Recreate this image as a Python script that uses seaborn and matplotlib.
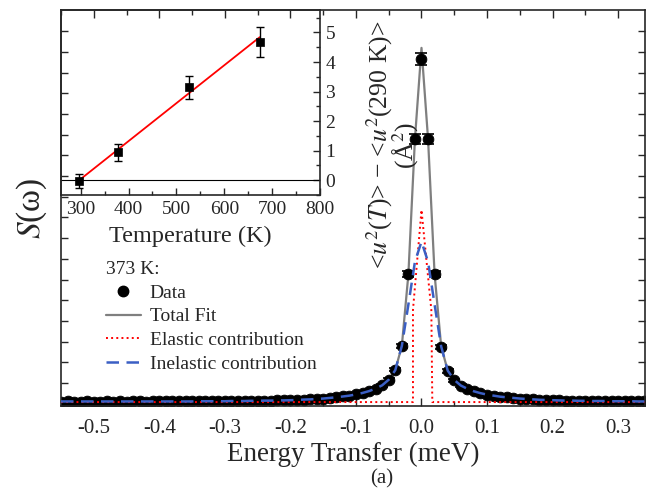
import numpy as np
import matplotlib
matplotlib.use('Agg')
import matplotlib.pyplot as plt
import seaborn as sns
from matplotlib.lines import Line2D
from matplotlib.ticker import MultipleLocator, NullFormatter

# ---- main panel: S(w) at 373 K ----
energy = [-0.55, -0.54, -0.53, -0.52, -0.51, -0.50, -0.49, -0.48, -0.47, -0.46,
          -0.45, -0.44, -0.43, -0.42, -0.41, -0.40, -0.39, -0.38, -0.37, -0.36,
          -0.35, -0.34, -0.33, -0.32, -0.31, -0.30, -0.29, -0.28, -0.27, -0.26,
          -0.25, -0.24, -0.23, -0.22, -0.21, -0.20, -0.19, -0.18, -0.17, -0.16,
          -0.15, -0.14, -0.13, -0.12, -0.11, -0.10, -0.09, -0.08, -0.07, -0.06,
          -0.05, -0.04, -0.03, -0.02, -0.01, 0.00, 0.01, 0.02, 0.03, 0.04,
          0.05, 0.06, 0.07, 0.08, 0.09, 0.10, 0.11, 0.12, 0.13, 0.14,
          0.15, 0.16, 0.17, 0.18, 0.19, 0.20, 0.21, 0.22, 0.23, 0.24,
          0.25, 0.26, 0.27, 0.28, 0.29, 0.30, 0.31, 0.32, 0.33, 0.34]

s_data = [0.21, 0.22, 0.21, 0.21, 0.22, 0.21, 0.21, 0.22, 0.21, 0.22,
          0.21, 0.22, 0.22, 0.21, 0.22, 0.22, 0.22, 0.23, 0.22, 0.22,
          0.23, 0.22, 0.23, 0.23, 0.23, 0.23, 0.24, 0.24, 0.24, 0.25,
          0.25, 0.26, 0.26, 0.27, 0.27, 0.28, 0.29, 0.31, 0.32, 0.34,
          0.36, 0.39, 0.42, 0.46, 0.50, 0.56, 0.63, 0.72, 0.84, 1.00,
          1.28, 1.75, 2.90, 6.36, 12.90, 16.76, 12.90, 6.36, 2.86, 1.69,
          1.25, 0.99, 0.83, 0.71, 0.62, 0.55, 0.50, 0.45, 0.42, 0.39,
          0.36, 0.34, 0.32, 0.30, 0.29, 0.28, 0.27, 0.26, 0.26, 0.25,
          0.25, 0.24, 0.24, 0.24, 0.23, 0.23, 0.23, 0.22, 0.23, 0.22]

s_err = [0.06, 0.06, 0.06, 0.06, 0.06, 0.06, 0.06, 0.06, 0.06, 0.06,
         0.06, 0.06, 0.06, 0.06, 0.06, 0.06, 0.06, 0.06, 0.06, 0.06,
         0.06, 0.06, 0.06, 0.06, 0.06, 0.06, 0.06, 0.06, 0.06, 0.06,
         0.06, 0.06, 0.06, 0.06, 0.06, 0.06, 0.06, 0.06, 0.06, 0.06,
         0.06, 0.06, 0.06, 0.06, 0.06, 0.06, 0.06, 0.06, 0.07, 0.07,
         0.07, 0.08, 0.10, 0.15, 0.23, 0.31, 0.23, 0.15, 0.10, 0.08,
         0.07, 0.07, 0.07, 0.06, 0.06, 0.06, 0.06, 0.06, 0.06, 0.06,
         0.06, 0.06, 0.06, 0.06, 0.06, 0.06, 0.06, 0.06, 0.06, 0.06,
         0.06, 0.06, 0.06, 0.06, 0.06, 0.06, 0.06, 0.06, 0.06, 0.06]

s_total = [0.21, 0.21, 0.21, 0.21, 0.21, 0.21, 0.21, 0.21, 0.21, 0.21,
           0.21, 0.21, 0.22, 0.22, 0.22, 0.22, 0.22, 0.22, 0.22, 0.22,
           0.22, 0.23, 0.23, 0.23, 0.23, 0.23, 0.24, 0.24, 0.24, 0.25,
           0.25, 0.26, 0.26, 0.27, 0.27, 0.28, 0.29, 0.31, 0.32, 0.34,
           0.36, 0.39, 0.42, 0.46, 0.50, 0.56, 0.63, 0.72, 0.84, 1.00,
           1.27, 1.73, 2.90, 6.36, 12.90, 17.30, 12.90, 6.36, 2.88, 1.71,
           1.26, 0.99, 0.83, 0.71, 0.62, 0.55, 0.50, 0.45, 0.42, 0.39,
           0.36, 0.34, 0.32, 0.30, 0.29, 0.28, 0.27, 0.26, 0.26, 0.25,
           0.25, 0.24, 0.24, 0.24, 0.23, 0.23, 0.23, 0.23, 0.22, 0.22]

s_inel = [0.22, 0.22, 0.22, 0.22, 0.22, 0.22, 0.22, 0.22, 0.22, 0.22,
          0.22, 0.22, 0.22, 0.22, 0.22, 0.22, 0.22, 0.22, 0.22, 0.22,
          0.22, 0.23, 0.23, 0.23, 0.23, 0.23, 0.24, 0.24, 0.24, 0.25,
          0.25, 0.26, 0.26, 0.27, 0.27, 0.28, 0.29, 0.31, 0.32, 0.34,
          0.36, 0.39, 0.42, 0.46, 0.50, 0.56, 0.63, 0.72, 0.84, 1.00,
          1.27, 1.73, 2.90, 4.90, 6.97, 7.94, 6.97, 4.90, 2.88, 1.71,
          1.26, 0.99, 0.83, 0.71, 0.62, 0.55, 0.50, 0.45, 0.42, 0.39,
          0.36, 0.34, 0.32, 0.30, 0.29, 0.28, 0.27, 0.26, 0.26, 0.25,
          0.25, 0.24, 0.24, 0.24, 0.23, 0.23, 0.23, 0.23, 0.22, 0.22]

el_energy = [-0.55, -0.013, -0.013, 0.0, 0.015, 0.0165, 0.34]
s_el = [0.19, 0.19, 4.64, 9.47, 4.64, 0.19, 0.19]

# ---- inset: mean square displacement ----
temp = [297, 379, 527, 674]
du2 = [-0.03, 0.94, 3.14, 4.67]
du2_err = [0.23, 0.28, 0.38, 0.50]
fit_temp = [297, 674]
fit_du2 = [0.0, 4.84]

sns.set_theme(style='ticks')
plt.rcParams['font.family'] = ['Liberation Serif', 'DejaVu Serif']
plt.rcParams['mathtext.fontset'] = 'stix'
plt.rcParams['axes.unicode_minus'] = False

W, H = 648, 498
fig = plt.figure(figsize=(W / 100, H / 100), dpi=100)
ax = fig.add_axes([61 / W, 1 - 406 / H, (645 - 61) / W, 396 / H])
ins = fig.add_axes([61 / W, 1 - 195 / H, (320 - 61) / W, 185 / H])

blue = '#3b5fc4'

sns.lineplot(x=energy, y=s_total, ax=ax, color='#7f7f7f', lw=1.6,
             sort=False, estimator=None, zorder=1)
ax.errorbar(energy, s_data, yerr=s_err, fmt='none', ecolor='black',
            elinewidth=1, capsize=4.5, capthick=1.2, zorder=2)
sns.scatterplot(x=energy, y=s_data, ax=ax, color='black', s=60,
                edgecolor='black', linewidth=0.6, zorder=2)
sns.lineplot(x=el_energy, y=s_el, ax=ax, color='red', lw=1.4, linestyle=':',
             sort=False, estimator=None, zorder=3)
sns.lineplot(x=energy, y=s_inel, ax=ax, color=blue, lw=1.8, linestyle=(0, (5, 3)),
             sort=False, estimator=None, zorder=4)

ax.set_xlim(-0.55, 0.341)
ax.set_ylim(0, 19.13)
ax.xaxis.set_major_locator(MultipleLocator(0.1))
ax.xaxis.set_minor_locator(MultipleLocator(0.05))
ax.set_yticks([1.11 + i for i in range(18)])
ax.yaxis.set_major_formatter(NullFormatter())
ax.tick_params(which='both', direction='in', top=True, right=True, width=1)
ax.tick_params(axis='x', which='major', length=6, labelsize=15, pad=9)
ax.tick_params(axis='x', which='minor', length=3.5)
ax.tick_params(axis='y', length=5)
for sp in ax.spines.values():
    sp.set_linewidth(1.2)
ax.set_xlabel('Energy Transfer (meV)', fontsize=19.5, labelpad=3)
ax.set_ylabel('$S$(ω)', fontsize=24, labelpad=5)

handles = [
    Line2D([], [], ls='none', marker='o', color='black', markersize=7.5),
    Line2D([], [], color='#7f7f7f', lw=1.6),
    Line2D([], [], color='red', lw=1.4, ls=':'),
    Line2D([], [], color=blue, lw=1.8, ls=(0, (5, 3))),
]
labels = ['Data', 'Total Fit', 'Elastic contribution', 'Inelastic contribution']
leg = ax.legend(handles, labels, title='373 K:', loc='upper left',
                bbox_to_anchor=(0.077, 0.366), frameon=False, fontsize=14,
                title_fontsize=14, handlelength=1.8, handletextpad=0.45,
                labelspacing=0.31, borderaxespad=0, borderpad=0)
leg._legend_box.align = 'left'

fig.text(382 / W, 1 - 479 / H, '(a)', ha='center', va='center', fontsize=15)

# inset
ins.set_facecolor('none')
ins.axhline(0, color='black', lw=0.8, zorder=1)
sns.lineplot(x=fit_temp, y=fit_du2, ax=ins, color='red', lw=1.3,
             sort=False, estimator=None, zorder=2)
ins.errorbar(temp, du2, yerr=du2_err, fmt='none', ecolor='black',
             elinewidth=1, capsize=3, capthick=1, zorder=3)
sns.scatterplot(x=temp, y=du2, ax=ins, color='black', marker='s', s=30,
                edgecolor='black', linewidth=0.5, zorder=4)
ins.set_xlim(259, 800)
ins.set_ylim(-0.5, 5.76)
ins.xaxis.set_major_locator(MultipleLocator(100))
ins.xaxis.set_minor_locator(MultipleLocator(50))
ins.yaxis.set_major_locator(MultipleLocator(1))
ins.yaxis.set_minor_locator(MultipleLocator(0.5))
ins.yaxis.tick_right()
ins.yaxis.set_label_position('right')
ins.tick_params(which='both', direction='in', labelsize=14, width=1)
ins.tick_params(which='major', length=5)
ins.tick_params(which='minor', length=3)
ins.tick_params(axis='y', left=False, right=True, pad=4)
ins.tick_params(axis='x', top=False, pad=4)
for sp in ins.spines.values():
    sp.set_linewidth(1.2)
ins.set_xlabel('Temperature (K)', fontsize=17.5, labelpad=6)
ins.set_ylabel('<$u^2$($T$)> − <$u^2$(290 K)>\n(Å$^2$)', fontsize=18.5,
               rotation=90, linespacing=0.8)
ins.yaxis.set_label_coords(1.17, 0.27)

fig.savefig('out.png', dpi=100)
